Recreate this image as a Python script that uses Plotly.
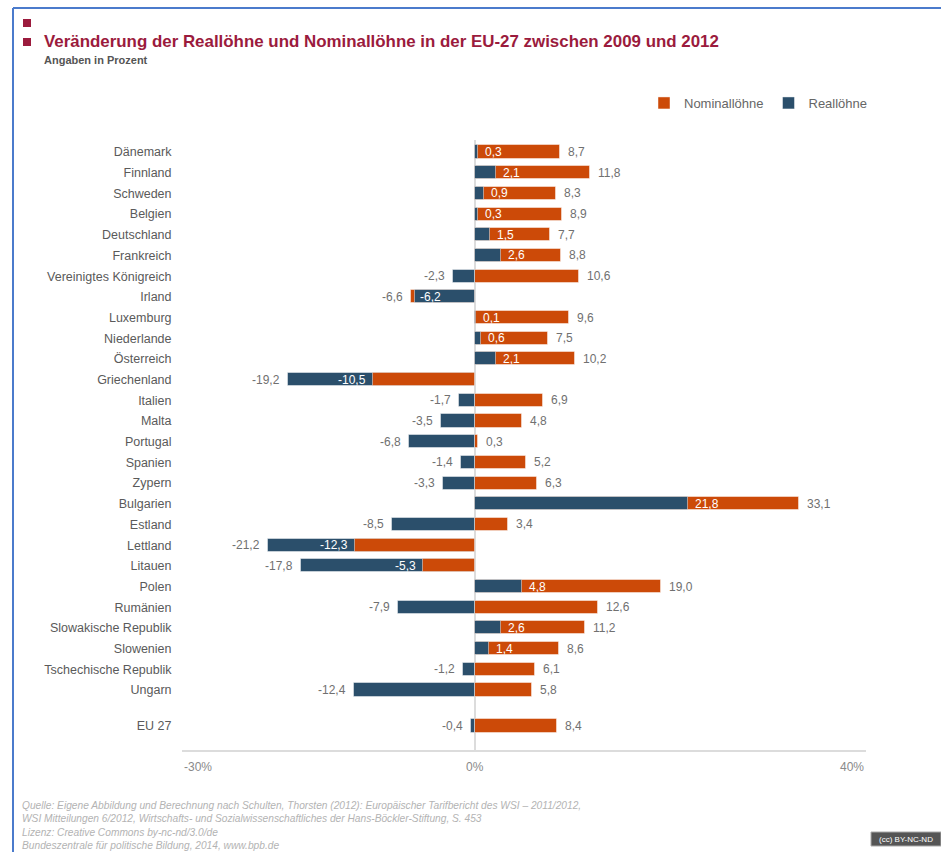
import plotly.graph_objects as go

countries = [
    "Dänemark", "Finnland", "Schweden", "Belgien", "Deutschland", "Frankreich",
    "Vereinigtes Königreich", "Irland", "Luxemburg", "Niederlande", "Österreich",
    "Griechenland", "Italien", "Malta", "Portugal", "Spanien", "Zypern", "Bulgarien",
    "Estland", "Lettland", "Litauen", "Polen", "Rumänien", "Slowakische Republik",
    "Slowenien", "Tschechische Republik", "Ungarn", "EU 27",
]
nominal = [8.7, 11.8, 8.3, 8.9, 7.7, 8.8, 10.6, -6.6, 9.6, 7.5, 10.2, -10.5, 6.9, 4.8,
           0.3, 5.2, 6.3, 33.1, 3.4, -12.3, -5.3, 19.0, 12.6, 11.2, 8.6, 6.1, 5.8, 8.4]
real = [0.3, 2.1, 0.9, 0.3, 1.5, 2.6, -2.3, -6.2, 0.1, 0.6, 2.1, -19.2, -1.7, -3.5,
        -6.8, -1.4, -3.3, 21.8, -8.5, -21.2, -17.8, 4.8, -7.9, 2.6, 1.4, -1.2, -12.4, -0.4]
x_ticks = [-30, 0, 40]

ORANGE = "#cc4a08"
BLUE = "#2b4f6b"
TITLE_RED = "#9b1b3d"
FONT = "Liberation Sans, Arial, sans-serif"

W, H = 941, 852
M_L, M_R, M_T, M_B = 182, 75, 140, 102
PLOT_W = W - M_L - M_R
PLOT_H = H - M_T - M_B


def px2x(px):
    return (px - M_L) / PLOT_W


def px2y(py):
    return (H - M_B - py) / PLOT_H


def fmt(v):
    return f"{v:.1f}".replace(".", ",")


# EU 27 sits a bit apart from the country rows
n_countries = len(countries) - 1
ypos = list(range(n_countries)) + [n_countries - 1 + 1.74]

# rows where the nominal bar is the shorter one and must sit on top
nominal_front = [n if (n * r > 0 and abs(n) < abs(r)) else None for n, r in zip(nominal, real)]

bar_line = {"color": "rgba(255,255,255,0.45)", "width": 1}
fig = go.Figure()
fig.add_trace(go.Bar(y=ypos, x=nominal, orientation="h", name="Nominallöhne",
                     marker={"color": ORANGE, "line": bar_line}, width=0.63))
fig.add_trace(go.Bar(y=ypos, x=real, orientation="h", name="Reallöhne",
                     marker={"color": BLUE, "line": bar_line}, width=0.63))
fig.add_trace(go.Bar(y=ypos, x=nominal_front, orientation="h", name="Nominallöhne",
                     marker={"color": ORANGE, "line": bar_line}, width=0.63,
                     showlegend=False))

annotations = []


def value_label(x, y, text, color, outward, shift=6):
    # outward: text sits beyond x away from zero; otherwise it goes back towards zero
    pos = x >= 0
    if outward:
        anchor = "left" if pos else "right"
        xs = shift if pos else -shift
    else:
        anchor = "right" if pos else "left"
        xs = -shift if pos else shift
    annotations.append(dict(x=x, y=y, xref="x", yref="y", text=text, showarrow=False,
                            xanchor=anchor, yanchor="middle", xshift=xs,
                            font={"size": 12, "color": color, "family": FONT}))


for y, n, r in zip(ypos, nominal, real):
    if n * r > 0:
        long_v, short_v = (n, r) if abs(n) >= abs(r) else (r, n)
        value_label(long_v, y, fmt(long_v), "#707070", True)
        if abs(long_v - short_v) > 2.5:
            value_label(short_v, y, fmt(short_v), "white", True, 5)
        else:
            value_label(short_v, y, fmt(short_v), "white", False, 3)
    else:
        value_label(n, y, fmt(n), "#707070", True)
        value_label(r, y, fmt(r), "#707070", True)

for t in x_ticks:
    anchor = "left" if t == min(x_ticks) else ("right" if t == max(x_ticks) else "center")
    annotations.append(dict(x=t, y=0, xref="x", yref="paper", text=f"{t}%", showarrow=False,
                            xanchor=anchor, yanchor="middle", yshift=-17,
                            font={"size": 12, "color": "#8a8a8a", "family": FONT}))

annotations += [
    dict(x=px2x(42), y=px2y(41), xref="paper", yref="paper", showarrow=False,
         xanchor="left", yanchor="middle",
         text="<b>Veränderung der Reallöhne und Nominallöhne in der EU-27 zwischen 2009 und 2012</b>",
         font={"size": 16.9, "color": TITLE_RED, "family": FONT}),
    dict(x=px2x(42), y=px2y(60), xref="paper", yref="paper", showarrow=False,
         xanchor="left", yanchor="middle", text="<b>Angaben in Prozent</b>",
         font={"size": 11, "color": "#555555", "family": FONT}),
    dict(x=px2x(20), y=px2y(798), xref="paper", yref="paper", showarrow=False,
         xanchor="left", yanchor="top", align="left",
         text=("<i>Quelle: Eigene Abbildung und Berechnung nach Schulten, Thorsten (2012): "
               "Europäischer Tarifbericht des WSI – 2011/2012,<br>"
               "WSI Mitteilungen 6/2012, Wirtschafts- und Sozialwissenschaftliches der "
               "Hans-Böckler-Stiftung, S. 453<br>"
               "Lizenz: Creative Commons by-nc-nd/3.0/de<br>"
               "Bundeszentrale für politische Bildung, 2014, www.bpb.de</i>"),
         font={"size": 10.2, "color": "#b3b3b3", "family": FONT}),
    dict(x=px2x(906), y=px2y(839), xref="paper", yref="paper", showarrow=False,
         xanchor="center", yanchor="middle", text="(cc) BY-NC-ND",
         font={"size": 8, "color": "white", "family": FONT}),
]

shapes = [
    # frame lines top / left
    dict(type="line", xref="paper", yref="paper", x0=px2x(13), x1=px2x(13),
         y0=px2y(852), y1=px2y(8), line={"color": "#4b7bcc", "width": 2}),
    dict(type="line", xref="paper", yref="paper", x0=px2x(13), x1=px2x(941),
         y0=px2y(8), y1=px2y(8), line={"color": "#4b7bcc", "width": 2}),
    # title bullets
    dict(type="rect", xref="paper", yref="paper", x0=px2x(23), x1=px2x(31),
         y0=px2y(27), y1=px2y(19), fillcolor=TITLE_RED, line={"width": 0}),
    dict(type="rect", xref="paper", yref="paper", x0=px2x(23), x1=px2x(31),
         y0=px2y(46), y1=px2y(38), fillcolor=TITLE_RED, line={"width": 0}),
    # licence badge
    dict(type="rect", xref="paper", yref="paper", x0=px2x(871), x1=px2x(941),
         y0=px2y(846), y1=px2y(832), fillcolor="#555555",
         line={"color": "#aaaaaa", "width": 1}),
]

fig.update_layout(
    width=W,
    height=H,
    autosize=False,
    barmode="overlay",
    bargap=0,
    paper_bgcolor="white",
    plot_bgcolor="white",
    font={"family": FONT, "size": 12, "color": "#666666"},
    margin={"l": M_L, "r": M_R, "t": M_T, "b": M_B, "autoexpand": False},
    showlegend=True,
    legend={
        "orientation": "h",
        "x": px2x(873),
        "xanchor": "right",
        "y": px2y(103),
        "yanchor": "middle",
        "font": {"size": 13, "color": "#666666", "family": FONT},
        "traceorder": "normal",
    },
    xaxis={
        "range": [min(x_ticks), max(x_ticks)],
        "showgrid": False,
        "showticklabels": False,
        "zeroline": True,
        "zerolinecolor": "#dcdcdc",
        "zerolinewidth": 2,
        "showline": True,
        "linecolor": "#dcdcdc",
        "linewidth": 2,
        "fixedrange": True,
    },
    yaxis={
        "range": [n_countries - 1 + 1.74 + 1.16, -0.58],
        "tickvals": ypos,
        "ticktext": countries,
        "tickfont": {"size": 12.5, "color": "#5a5a5a", "family": FONT},
        "ticks": "outside",
        "ticklen": 7,
        "tickcolor": "rgba(0,0,0,0)",
        "showgrid": False,
        "zeroline": False,
        "showline": False,
        "automargin": False,
        "fixedrange": True,
    },
    annotations=annotations,
    shapes=shapes,
)

fig.write_html(
    "out.html",
    config={"displayModeBar": False},
    post_script="document.body.style.margin='0';document.body.style.overflow='hidden';",
)
